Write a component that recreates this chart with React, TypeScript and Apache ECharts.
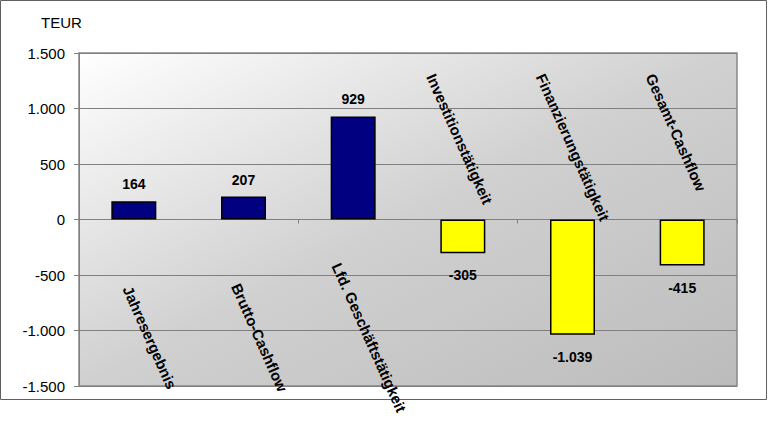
import React, { useEffect, useRef } from "react";
import * as echarts from "echarts";

const categories = [
  "Jahresergebnis",
  "Brutto-Cashflow",
  "Lfd. Geschäftstätigkeit",
  "Investitionstätigkeit",
  "Finanzierungstätigkeit",
  "Gesamt-Cashflow",
];
const values = [164, 207, 929, -305, -1039, -415];
const unitLabel = "TEUR";
const yMin = -1500;
const yMax = 1500;
const yStep = 500;

const FONT = '"Liberation Sans", Arial, sans-serif';

function fmt(v: number): string {
  const s = String(Math.abs(Math.round(v))).replace(/\B(?=(\d{3})+(?!\d))/g, ".");
  return (v < 0 ? "-" : "") + s;
}

export default function App() {
  const ref = useRef<HTMLDivElement>(null);
  useEffect(() => {
    document.body.style.margin = "0";
    if (!ref.current) return;
    const chart = echarts.init(ref.current, undefined, { renderer: "svg" });
    const barData = values.map((v) => ({
      value: v,
      itemStyle: { color: v >= 0 ? "#000080" : "#ffff00" },
      label: { position: v >= 0 ? "top" : "bottom", distance: v >= 0 ? 10 : 15 },
    }));
    chart.setOption({
      animation: false,
      textStyle: { fontFamily: FONT },
      grid: {
        left: 79,
        top: 53,
        width: 658,
        height: 333,
        show: true,
        borderColor: "#888888",
        borderWidth: 1.5,
        backgroundColor: new echarts.graphic.LinearGradient(0, 0, 1, 1, [
          { offset: 0, color: "#ffffff" },
          { offset: 0.5, color: "#d0d0d0" },
          { offset: 1, color: "#bcbcbc" },
        ]),
      },
      graphic: [
        {
          type: "rect",
          shape: { x: 0.5, y: 0.5, width: 766, height: 399 },
          style: { fill: "none", stroke: "#606060", lineWidth: 1 },
          silent: true,
          z: -1,
        },
        {
          type: "text",
          x: 41,
          y: 22,
          style: {
            text: unitLabel,
            font: `15px ${FONT}`,
            fill: "#000",
            align: "left",
            verticalAlign: "middle",
          },
        },
      ],
      xAxis: {
        type: "category",
        data: categories,
        axisLine: { onZero: true, lineStyle: { color: "#808080", width: 1 } },
        axisTick: { show: true, length: 4, lineStyle: { color: "#808080" } },
        axisLabel: { show: false },
        splitLine: { show: false },
      },
      yAxis: {
        type: "value",
        min: yMin,
        max: yMax,
        interval: yStep,
        axisLine: { show: true, lineStyle: { color: "#808080", width: 1 } },
        axisTick: { show: true, length: 5, lineStyle: { color: "#808080" } },
        axisLabel: {
          color: "#000",
          fontSize: 15,
          fontFamily: FONT,
          margin: 14,
          formatter: (v: number) => fmt(v),
        },
        splitLine: { show: true, lineStyle: { color: "#808080", width: 1 } },
      },
      series: [
        {
          type: "bar",
          data: barData,
          barWidth: 45,
          itemStyle: { borderColor: "#000", borderWidth: 1.5 },
          label: {
            show: true,
            color: "#000",
            fontSize: 14,
            fontWeight: "bold",
            fontFamily: FONT,
            formatter: (p: any) => fmt(p.value),
          },
        },
        {
          type: "custom",
          silent: true,
          z: 5,
          data: values.map((v, i) => [i, v]),
          encode: { x: 0, y: 1 },
          renderItem: (params: any, api: any) => {
            const idx = api.value(0);
            const v = api.value(1);
            const p = api.coord([idx, 0]);
            const pos = v >= 0;
            return {
              type: "text",
              x: pos ? p[0] + 16 : p[0] - 25,
              y: pos ? p[1] + 118 : p[1] - 148,
              rotation: (-66 * Math.PI) / 180,
              style: {
                text: categories[idx],
                font: `bold 15px ${FONT}`,
                fill: "#000",
                align: pos ? "center" : "left",
                verticalAlign: pos ? "middle" : "top",
              },
            };
          },
        },
      ],
    });
    return () => chart.dispose();
  }, []);
  return <div ref={ref} style={{ width: 768, height: 428 }} />;
}
